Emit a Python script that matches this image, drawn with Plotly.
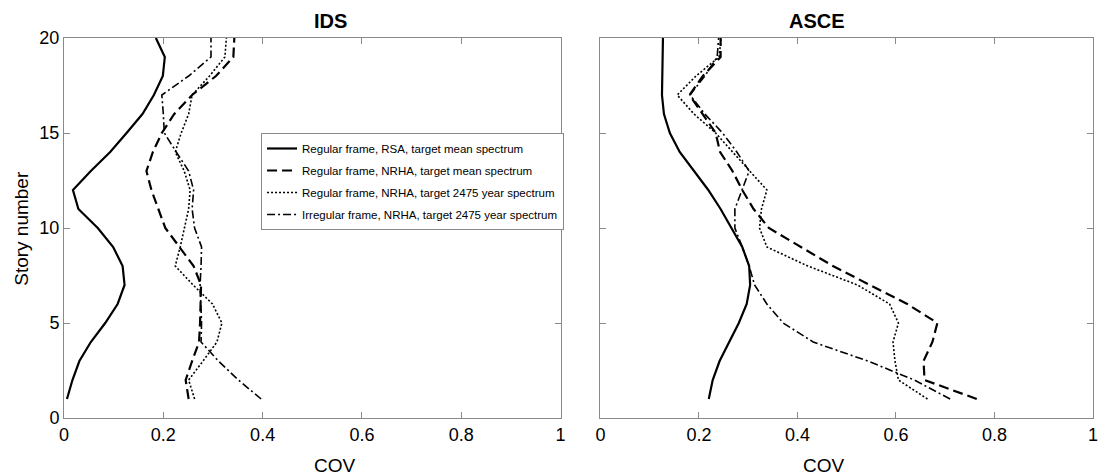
import plotly.graph_objects as go

# Story levels (1..20)
stories = list(range(1, 21))

# Coefficient of variation of IDS per story
ids_rsa_mean = [0.006, 0.017, 0.031, 0.054, 0.083, 0.108, 0.122, 0.118, 0.099, 0.068,
                0.029, 0.018, 0.054, 0.093, 0.126, 0.158, 0.181, 0.199, 0.203, 0.185]
ids_nrha_mean = [0.251, 0.245, 0.258, 0.272, 0.274, 0.275, 0.276, 0.261, 0.233, 0.204,
                 0.190, 0.176, 0.166, 0.179, 0.197, 0.222, 0.258, 0.306, 0.341, 0.343]
ids_nrha_2475 = [0.263, 0.251, 0.280, 0.308, 0.318, 0.299, 0.260, 0.224, 0.234, 0.242,
                 0.251, 0.254, 0.242, 0.224, 0.236, 0.251, 0.258, 0.293, 0.324, 0.327]
ids_irreg_2475 = [0.397, 0.351, 0.311, 0.276, 0.277, 0.276, 0.274, 0.276, 0.277, 0.263,
                  0.258, 0.261, 0.251, 0.226, 0.202, 0.200, 0.197, 0.251, 0.296, 0.296]

# Coefficient of variation of ASCE per story
asce_rsa_mean = [0.220, 0.228, 0.242, 0.262, 0.281, 0.297, 0.304, 0.302, 0.288, 0.266,
                 0.244, 0.219, 0.190, 0.161, 0.141, 0.129, 0.125, 0.126, 0.127, 0.127]
asce_nrha_mean = [0.764, 0.658, 0.656, 0.674, 0.684, 0.623, 0.547, 0.472, 0.407, 0.342,
                  0.311, 0.288, 0.268, 0.243, 0.234, 0.208, 0.181, 0.208, 0.244, 0.244]
asce_nrha_2475 = [0.664, 0.605, 0.598, 0.594, 0.605, 0.587, 0.522, 0.421, 0.338, 0.323,
                  0.327, 0.338, 0.303, 0.268, 0.234, 0.190, 0.156, 0.194, 0.241, 0.245]
asce_irreg_2475 = [0.710, 0.637, 0.543, 0.432, 0.371, 0.338, 0.313, 0.302, 0.288, 0.273,
                   0.273, 0.288, 0.302, 0.277, 0.248, 0.212, 0.182, 0.212, 0.237, 0.240]

series_names = [
    "Regular frame, RSA, target mean spectrum",
    "Regular frame, NRHA, target mean spectrum",
    "Regular frame, NRHA, target 2475 year spectrum",
    "Irregular frame, NRHA, target 2475 year spectrum",
]

x_ticks = [0, 0.2, 0.4, 0.6, 0.8, 1]
x_tick_labels = ["0", "0.2", "0.4", "0.6", "0.8", "1"]
y_ticks = [0, 5, 10, 15, 20]
y_tick_labels = ["0", "5", "10", "15", "20"]

styles = [
    dict(dash="solid", width=2.2),
    dict(dash="10px,5px", width=2.2),
    dict(dash="2px,2px", width=1.6),
    dict(dash="8px,3px,2px,3px", width=1.6),
]

FONT = "Liberation Sans, Arial, sans-serif"
fig = go.Figure()

for i, (name, vals) in enumerate(zip(series_names,
                                     [ids_rsa_mean, ids_nrha_mean, ids_nrha_2475, ids_irreg_2475])):
    fig.add_trace(go.Scatter(
        x=vals, y=stories, mode="lines", name=name,
        line=dict(color="black", **styles[i]),
        xaxis="x", yaxis="y", legendgroup=f"g{i}", showlegend=True,
    ))

for i, (name, vals) in enumerate(zip(series_names,
                                     [asce_rsa_mean, asce_nrha_mean, asce_nrha_2475, asce_irreg_2475])):
    fig.add_trace(go.Scatter(
        x=vals, y=stories, mode="lines", name=name,
        line=dict(color="black", **styles[i]),
        xaxis="x2", yaxis="y2", legendgroup=f"g{i}", showlegend=False,
    ))

W, H = 1099, 476
ml, mr, mt, mb = 64, 1, 38, 58
pw = W - ml - mr
ph = H - mt - mb
left_end = (563 - ml) / pw
right_start = (603 - ml) / pw

axis_common = dict(
    showline=True, linecolor="#8a8a8a", linewidth=1, mirror="ticks",
    ticks="inside", ticklen=6, tickcolor="#8a8a8a", tickwidth=1,
    showgrid=False, zeroline=False,
    tickfont=dict(family=FONT, size=18, color="black"),
)

fig.update_layout(
    width=W, height=H,
    margin=dict(l=ml, r=mr, t=mt, b=mb),
    paper_bgcolor="white", plot_bgcolor="white",
    font=dict(family=FONT, color="black"),
    xaxis=dict(domain=[0, left_end], range=[0, 1], tickvals=x_ticks, ticktext=x_tick_labels,
               anchor="y", **axis_common),
    yaxis=dict(domain=[0, 1], range=[0, 20], tickvals=y_ticks, ticktext=y_tick_labels,
               anchor="x", **axis_common),
    xaxis2=dict(domain=[right_start, 1], range=[0, 1], tickvals=x_ticks, ticktext=x_tick_labels,
                anchor="y2", **axis_common),
    yaxis2=dict(domain=[0, 1], range=[0, 20], tickvals=y_ticks, ticktext=y_tick_labels,
                anchor="x2", showticklabels=False, **axis_common),
    legend=dict(
        x=(262 - ml) / pw, y=(H - mb - 133) / ph, xanchor="left", yanchor="top",
        bgcolor="white", bordercolor="#8a8a8a", borderwidth=1,
        font=dict(family=FONT, size=11.5, color="black"),
        traceorder="grouped", tracegroupgap=3, itemwidth=30,
    ),
    showlegend=True,
)

cov_y = (H - mb - 465) / ph
annotations = [
    dict(text="<b>IDS</b>", x=left_end / 2, y=1, xref="paper", yref="paper", yshift=4,
         yanchor="bottom", showarrow=False, font=dict(family=FONT, size=20)),
    dict(text="<b>ASCE</b>", x=(right_start + 1) / 2, y=1, xref="paper", yref="paper", yshift=4,
         yanchor="bottom", showarrow=False, font=dict(family=FONT, size=20)),
    dict(text="COV", x=left_end / 2, y=cov_y, xref="paper", yref="paper",
         yanchor="middle", showarrow=False, font=dict(family=FONT, size=19)),
    dict(text="COV", x=(right_start + 1) / 2, y=cov_y, xref="paper", yref="paper",
         yanchor="middle", showarrow=False, font=dict(family=FONT, size=19)),
    dict(text="Story number", x=-0.042, y=0.5, xref="paper", yref="paper", textangle=-90,
         xanchor="center", yanchor="middle", showarrow=False, font=dict(family=FONT, size=19)),
]
fig.update_layout(annotations=annotations)

fig.write_html("out.html")
